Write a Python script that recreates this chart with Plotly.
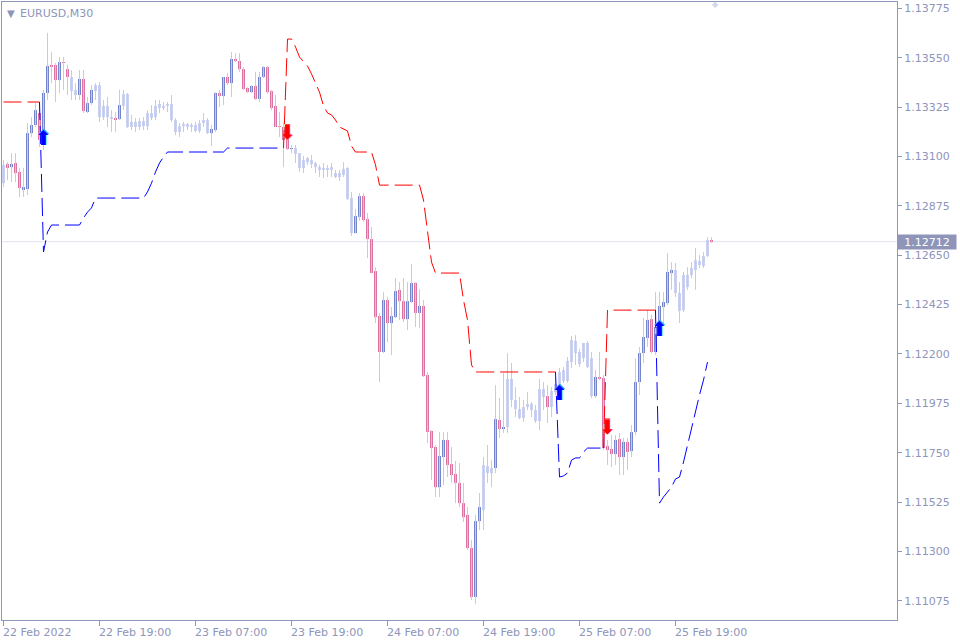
import plotly.graph_objects as go

symbol_title = "EURUSD,M30"
last_price = 1.12712

opens = [
1.12979,1.13066,1.13052,1.13071,1.13030,1.12952,1.12952,1.13207,1.13244,1.13299,
1.13176,1.13390,1.13518,1.13518,1.13449,1.13531,1.13499,1.13463,1.13404,1.13381,
1.13454,1.13303,1.13344,1.13399,1.13426,1.13280,1.13331,1.13280,1.13276,1.13271,
1.13331,1.13385,1.13235,1.13258,1.13235,1.13262,1.13239,1.13299,1.13280,1.13340,
1.13322,1.13331,1.13340,1.13267,1.13212,1.13239,1.13249,1.13235,1.13244,1.13217,
1.13253,1.13267,1.13207,1.13221,1.13390,1.13376,1.13463,1.13435,1.13545,1.13536,
1.13499,1.13413,1.13394,1.13422,1.13363,1.13463,1.13508,1.13399,1.13331,1.13239,
1.13235,1.13194,1.13135,1.13139,1.13116,1.13048,1.13075,1.13084,1.13071,1.13052,
1.13048,1.13039,1.13052,1.13025,1.13007,1.13016,1.13048,1.12911,1.12751,1.12825,
1.12920,1.12815,1.12724,1.12578,1.12373,1.12209,1.12446,1.12341,1.12368,1.12492,
1.12441,1.12359,1.12437,1.12524,1.12387,1.12419,1.12104,1.11849,1.11776,1.11593,
1.11730,1.11808,1.11698,1.11653,1.11612,1.11520,1.11466,1.11315,1.11092,1.11438,
1.11488,1.11689,1.11657,1.11680,1.11899,1.11858,1.11867,1.12086,1.11990,1.11949,
1.11908,1.11958,1.11972,1.11944,1.11894,1.12040,1.12008,1.11958,1.12026,1.12036,
1.12077,1.12077,1.12163,1.12259,1.12209,1.12181,1.12250,1.12181,1.12008,1.12095,
1.12090,1.11780,1.11767,1.11744,1.11812,1.11730,1.11799,1.11757,1.11844,1.12072,
1.12204,1.12273,1.12359,1.12209,1.12318,1.12414,1.12432,1.12569,1.12583,1.12478,
1.12400,1.12505,1.12560,1.12583,1.12606,1.12601,1.12647,1.12720]

highs = [
1.13084,1.13075,1.13116,1.13116,1.13048,1.13048,1.13253,1.13280,1.13344,1.13344,
1.13404,1.13664,1.13577,1.13527,1.13554,1.13554,1.13518,1.13495,1.13435,1.13495,
1.13495,1.13372,1.13426,1.13435,1.13440,1.13358,1.13372,1.13312,1.13303,1.13404,
1.13404,1.13390,1.13290,1.13276,1.13276,1.13280,1.13312,1.13335,1.13358,1.13358,
1.13349,1.13349,1.13381,1.13276,1.13253,1.13258,1.13253,1.13253,1.13258,1.13267,
1.13299,1.13276,1.13244,1.13394,1.13404,1.13463,1.13481,1.13577,1.13572,1.13572,
1.13508,1.13417,1.13426,1.13486,1.13486,1.13513,1.13513,1.13404,1.13381,1.13303,
1.13253,1.13207,1.13153,1.13153,1.13116,1.13103,1.13098,1.13107,1.13075,1.13062,
1.13071,1.13062,1.13071,1.13039,1.13039,1.13075,1.13052,1.12939,1.12861,1.12934,
1.12934,1.12843,1.12779,1.12596,1.12387,1.12482,1.12460,1.12414,1.12546,1.12528,
1.12546,1.12528,1.12610,1.12528,1.12496,1.12446,1.12118,1.11853,1.11785,1.11844,
1.11844,1.11844,1.11776,1.11712,1.11703,1.11612,1.11502,1.11352,1.11466,1.11566,
1.11730,1.11785,1.11716,1.12058,1.11999,1.12113,1.12204,1.12159,1.12049,1.12004,
1.11990,1.12026,1.11981,1.11967,1.12086,1.12072,1.12058,1.12049,1.12095,1.12136,
1.12140,1.12186,1.12282,1.12286,1.12223,1.12250,1.12259,1.12209,1.12127,1.12209,
1.12104,1.11808,1.11830,1.11830,1.11840,1.11817,1.11817,1.11876,1.12181,1.12232,
1.12364,1.12400,1.12378,1.12482,1.12482,1.12482,1.12660,1.12619,1.12615,1.12528,
1.12574,1.12596,1.12619,1.12683,1.12651,1.12665,1.12733,1.12733]

lows = [
1.12961,1.12993,1.12984,1.12984,1.12916,1.12916,1.12925,1.13189,1.13235,1.13144,
1.13130,1.13358,1.13435,1.13349,1.13390,1.13404,1.13381,1.13358,1.13358,1.13358,
1.13299,1.13299,1.13335,1.13358,1.13258,1.13267,1.13235,1.13212,1.13212,1.13267,
1.13312,1.13230,1.13221,1.13212,1.13221,1.13221,1.13221,1.13267,1.13267,1.13299,
1.13312,1.13303,1.13258,1.13198,1.13189,1.13212,1.13221,1.13212,1.13212,1.13207,
1.13235,1.13203,1.13148,1.13212,1.13326,1.13335,1.13426,1.13372,1.13531,1.13486,
1.13404,1.13390,1.13390,1.13358,1.13349,1.13458,1.13385,1.13312,1.13235,1.13189,
1.13052,1.13130,1.13116,1.13071,1.13030,1.13025,1.13062,1.13048,1.13025,1.13007,
1.13002,1.13007,1.13007,1.13002,1.12989,1.13007,1.12902,1.12738,1.12751,1.12806,
1.12802,1.12637,1.12569,1.12341,1.12072,1.12204,1.12254,1.12195,1.12364,1.12355,
1.12346,1.12309,1.12432,1.12323,1.12318,1.12095,1.11794,1.11625,1.11548,1.11548,
1.11602,1.11639,1.11612,1.11520,1.11502,1.11434,1.11306,1.11078,1.11060,1.11397,
1.11397,1.11612,1.11593,1.11657,1.11817,1.11840,1.11840,1.11958,1.11912,1.11903,
1.11890,1.11944,1.11912,1.11885,1.11853,1.11944,1.11885,1.11912,1.12013,1.11990,
1.12068,1.12068,1.12136,1.12150,1.12140,1.12163,1.12136,1.11999,1.11999,1.12081,
1.11762,1.11694,1.11684,1.11694,1.11648,1.11648,1.11671,1.11730,1.11830,1.12013,
1.12159,1.12232,1.12204,1.12195,1.12309,1.12341,1.12423,1.12492,1.12460,1.12341,
1.12391,1.12492,1.12546,1.12492,1.12592,1.12592,1.12642,1.12706]

closes = [
1.13062,1.13048,1.13066,1.13025,1.12957,1.12961,1.13207,1.13244,1.13312,1.13176,
1.13390,1.13513,1.13513,1.13449,1.13531,1.13527,1.13463,1.13399,1.13381,1.13454,
1.13308,1.13344,1.13404,1.13426,1.13280,1.13331,1.13280,1.13276,1.13271,1.13335,
1.13385,1.13235,1.13258,1.13235,1.13262,1.13239,1.13299,1.13276,1.13331,1.13322,
1.13331,1.13340,1.13267,1.13212,1.13239,1.13249,1.13235,1.13244,1.13217,1.13253,
1.13267,1.13207,1.13226,1.13390,1.13376,1.13463,1.13435,1.13545,1.13536,1.13499,
1.13408,1.13394,1.13422,1.13363,1.13463,1.13508,1.13394,1.13322,1.13235,1.13235,
1.13176,1.13135,1.13139,1.13112,1.13048,1.13084,1.13093,1.13066,1.13052,1.13043,
1.13039,1.13048,1.13043,1.13007,1.13025,1.13043,1.12907,1.12751,1.12829,1.12920,
1.12811,1.12724,1.12569,1.12368,1.12209,1.12446,1.12341,1.12373,1.12487,1.12441,
1.12359,1.12441,1.12524,1.12387,1.12419,1.12099,1.11844,1.11771,1.11593,1.11735,
1.11808,1.11694,1.11648,1.11612,1.11520,1.11456,1.11315,1.11092,1.11438,1.11502,
1.11694,1.11657,1.11680,1.11903,1.11858,1.11867,1.12086,1.11990,1.11949,1.11908,
1.11958,1.11972,1.11944,1.11894,1.12040,1.12004,1.11958,1.12031,1.12063,1.12118,
1.12127,1.12168,1.12264,1.12204,1.12154,1.12250,1.12140,1.12008,1.12095,1.12090,
1.11771,1.11762,1.11744,1.11808,1.11730,1.11799,1.11753,1.11844,1.12072,1.12204,
1.12277,1.12355,1.12209,1.12323,1.12419,1.12437,1.12574,1.12583,1.12478,1.12396,
1.12560,1.12560,1.12592,1.12628,1.12624,1.12647,1.12720,1.12712]

# candle state: B = bullish trend, P = bearish trend, L = neutral
candle_state = list(
    "LPBPPBBBBP" "BBPPBPPLLB" "PBBLLLLLPB" "LLLLLLLLLL" "LLLLLLLLLL"
    "LLBBPBPBPP" "PPBPBBPPPP" "PPBLLLLLLL" "LLLLLLLLBB" "PPPPPBPBBP"
    "PBBPBPPPPB" "BPPPPPPPBB" "LLLBPBLLLL" "LLLLLLPLLL" "LLLLLLLLBP"
    "PPPBPBPBBB" "BBPBBBBBLL" "LLLLLLLP")

N = None
# trailing stop indicator (red = above price, blue = below price)
stop_down = ([1.13349]*10 + [N]*60 +
    [1.13139, 1.13636, 1.13636, 1.13600, 1.13554, 1.13531, 1.13513, 1.13477, 1.13431, 1.13394,
     1.13331, 1.13299, 1.13290, 1.13267, 1.13235, 1.13226, 1.13217, 1.13148,
     1.13121, 1.13121, 1.13121, 1.13121, 1.13121, 1.13062] +
    [1.12970]*11 + [1.12902, 1.12765, 1.12619] + [1.12569]*7 + [1.12446, 1.12355, 1.12150] +
    [1.12118]*21 + [N]*11 + [1.11771] + [1.12400]*13 + [N]*14)

stop_up = ([N]*9 + [1.13349, 1.12665, 1.12756] + [1.12788]*8 + [1.12820, 1.12847, 1.12866] +
    [1.12911]*13 + [1.12939, 1.12979, 1.13030, 1.13071, 1.13098] + [1.13121]*15 + [1.13139]*15 +
    [N]*67 +
    [1.12118, 1.11639, 1.11644, 1.11657, 1.11716, 1.11726, 1.11726, 1.11753] + [1.11771]*5 +
    [N]*12 +
    [1.12400, 1.11520, 1.11548, 1.11571, 1.11593, 1.11630, 1.11639, 1.11707, 1.11785,
     1.11862, 1.11944, 1.12013, 1.12081, 1.12163, N])

buy_arrow_bars = [10, 139, 164]
buy_arrow_prices = [1.13176, 1.12013, 1.12305]
sell_arrow_bars = [71, 151]
sell_arrow_prices = [1.13203, 1.11858]

price_ticks = [1.11075, 1.11300, 1.11525, 1.11750, 1.11975, 1.12200, 1.12425,
               1.12650, 1.12875, 1.13100, 1.13325, 1.13550, 1.13775]
time_tick_bars = [0, 24, 48, 72, 96, 120, 144, 168]
time_tick_labels = ["22 Feb 2022", "22 Feb 19:00", "23 Feb 07:00", "23 Feb 19:00",
                    "24 Feb 07:00", "24 Feb 19:00", "25 Feb 07:00", "25 Feb 19:00"]

FRAME = "#8e96ba"
TEXT = "#8e95bb"
FONT = "DejaVu Sans"
state_colors = {"B": "#7585cc", "P": "#dd73a3", "L": "#cbd2f1"}

idx = list(range(len(opens)))

# wicks
wx, wy = [], []
for i in idx:
    wx += [i, i, None]
    wy += [lows[i], highs[i], None]

fig = go.Figure()
fig.add_trace(go.Scatter(x=wx, y=wy, mode="lines",
                         line=dict(color="#c6cbe2", width=1), hoverinfo="skip"))
fig.add_trace(go.Bar(
    x=idx,
    y=[abs(c - o) for o, c in zip(opens, closes)],
    base=[min(o, c) for o, c in zip(opens, closes)],
    width=0.75,
    marker=dict(color=[state_colors[s] for s in candle_state], line=dict(width=0)),
    hoverinfo="skip"))

fig.add_trace(go.Scatter(x=idx, y=stop_down, mode="lines", connectgaps=False,
                         line=dict(color="#ff0000", width=1, dash="18px,6px"), hoverinfo="skip"))
fig.add_trace(go.Scatter(x=idx, y=stop_up, mode="lines", connectgaps=False,
                         line=dict(color="#0000ff", width=1, dash="18px,6px"), hoverinfo="skip"))

# arrow halo + arrow
fig.add_trace(go.Scatter(x=buy_arrow_bars, y=buy_arrow_prices, mode="text", text=["⬆"]*len(buy_arrow_bars),
                         textfont=dict(color="#3fa0ff", size=22, family=FONT), hoverinfo="skip"))
fig.add_trace(go.Scatter(x=buy_arrow_bars, y=buy_arrow_prices, mode="text", text=["⬆"]*len(buy_arrow_bars),
                         textfont=dict(color="#0000ff", size=20, family=FONT), hoverinfo="skip"))
fig.add_trace(go.Scatter(x=sell_arrow_bars, y=sell_arrow_prices, mode="text", text=["⬇"]*len(sell_arrow_bars),
                         textfont=dict(color="#ff8080", size=22, family=FONT), hoverinfo="skip"))
fig.add_trace(go.Scatter(x=sell_arrow_bars, y=sell_arrow_prices, mode="text", text=["⬇"]*len(sell_arrow_bars),
                         textfont=dict(color="#ff0000", size=20, family=FONT), hoverinfo="skip"))

fig.add_shape(type="line", xref="paper", x0=0, x1=1, yref="y", y0=last_price, y1=last_price,
              line=dict(color="#e0e3f2", width=1), layer="below")

annotations = []
for b, lab in zip(time_tick_bars, time_tick_labels):
    annotations.append(dict(x=b, xref="x", y=0, yref="paper", text=lab, showarrow=False,
                            xanchor="left", yanchor="top", xshift=-3, yshift=-4,
                            font=dict(family=FONT, size=11, color=TEXT)))
annotations.append(dict(x=1, xref="paper", y=last_price, yref="y", text=f"{last_price:.5f}",
                        showarrow=False, xanchor="left", yanchor="middle", xshift=0,
                        bgcolor="#8e95b9", font=dict(family=FONT, size=11, color="white"),
                        width=56, height=12, borderpad=1, align="center"))
annotations.append(dict(x=0, xref="paper", y=1, yref="paper", text="▼", showarrow=False,
                        xanchor="left", yanchor="top", xshift=3, yshift=-4,
                        font=dict(family=FONT, size=10, color=TEXT)))
annotations.append(dict(x=0, xref="paper", y=1, yref="paper", text=symbol_title, showarrow=False,
                        xanchor="left", yanchor="top", xshift=16, yshift=-3,
                        font=dict(family=FONT, size=11, color=TEXT)))
# chart shift marker, one bar to the right of the last candle
annotations.append(dict(x=len(opens), xref="x", y=1, yref="paper", text="◆", showarrow=False,
                        xanchor="center", yanchor="top", yshift=4,
                        font=dict(family=FONT, size=8, color="#d3d7ea")))

fig.update_layout(
    width=960, height=640,
    margin=dict(l=2, r=63, t=2, b=20),
    paper_bgcolor="white", plot_bgcolor="white",
    showlegend=False, hovermode=False, barmode="overlay",
    annotations=annotations,
    font=dict(family=FONT, size=11, color=TEXT),
)
fig.update_xaxes(range=[-0.375, 223.375], showgrid=False, zeroline=False,
                 showline=True, mirror=True, linecolor=FRAME, linewidth=1,
                 tickmode="array", tickvals=time_tick_bars, showticklabels=False,
                 ticks="outside", ticklen=5, tickcolor=FRAME)
fig.update_yaxes(range=[1.10987, 1.13805], side="right", showgrid=False, zeroline=False,
                 showline=True, mirror=True, linecolor=FRAME, linewidth=1,
                 tickmode="array", tickvals=price_ticks, ticktext=[f"{v:.5f}" for v in price_ticks],
                 ticks="outside", ticklen=4, tickcolor=FRAME,
                 tickfont=dict(family=FONT, size=11, color=TEXT))

fig.write_html("out.html", config={"displayModeBar": False},
               post_script="document.body.style.margin='0px';document.body.style.overflow='hidden';")
